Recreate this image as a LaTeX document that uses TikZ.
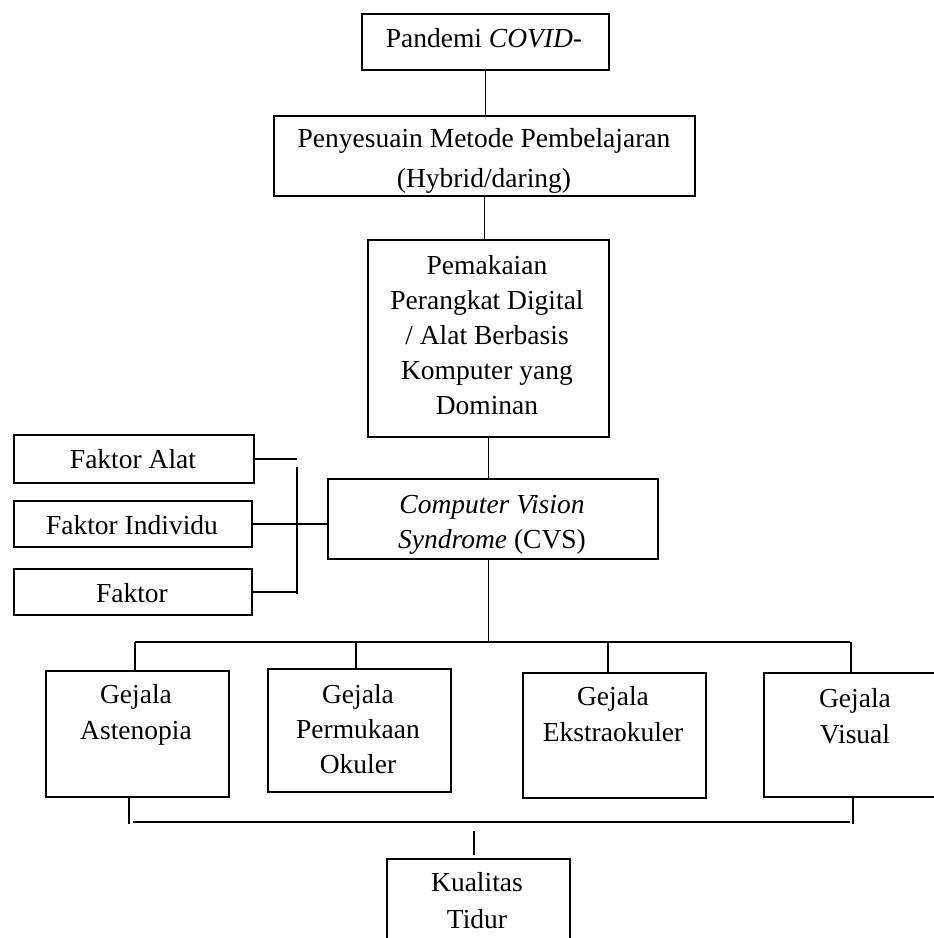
\documentclass[tikz,border=0pt]{standalone}
\usepackage{fontspec}
\setmainfont{Liberation Serif}
\begin{document}
\begin{tikzpicture}[x=1pt,y=-1pt,
  box/.style={draw, line width=1.7pt, inner sep=0pt, anchor=north west},
  txt/.style={inner sep=0pt, anchor=base, align=center, font=\fontsize{27.5}{36}\selectfont},
  conn/.style={line width=1.7pt}]
\useasboundingbox (0,0) rectangle (934,938);
\fill[white] (0,0) rectangle (934,938);

% boxes
\node[box, minimum width=247pt, minimum height=56pt] (covid) at (361,13) {};
\node[box, minimum width=421pt, minimum height=80pt] (met) at (273,115) {};
\node[box, minimum width=241pt, minimum height=197pt] (pem) at (367,239) {};
\node[box, minimum width=330pt, minimum height=80pt] (cvs) at (327,478) {};
\node[box, minimum width=240pt, minimum height=48pt] (fA) at (13,434) {};
\node[box, minimum width=238pt, minimum height=46pt] (fI) at (13,500) {};
\node[box, minimum width=238pt, minimum height=46pt] (fF) at (13,568) {};
\node[box, minimum width=183pt, minimum height=126pt] (g1) at (45,670) {};
\node[box, minimum width=183pt, minimum height=123pt] (g2) at (267,668) {};
\node[box, minimum width=183pt, minimum height=125pt] (g3) at (522,672) {};
\node[box, minimum width=183pt, minimum height=124pt] (g4) at (763,672) {};
\node[box, minimum width=183pt, minimum height=120pt] (kual) at (386,858) {};

% texts (anchor=base sits on the last line's baseline)
\node[txt] (covidT) at (484,47) {Pandemi \textit{COVID-}};
\node[txt, font=\fontsize{27.5}{40}\selectfont] (metT) at (484,187) {Penyesuain Metode Pembelajaran\\(Hybrid/daring)};
\node[txt, font=\fontsize{27.5}{35}\selectfont] (pemT) at (487,414) {Pemakaian\\Perangkat Digital\\/ Alat Berbasis\\Komputer yang\\Dominan};
\node[txt, font=\fontsize{27.5}{35}\selectfont] (cvsT) at (492,548) {\textit{Computer Vision}\\\textit{Syndrome} (CVS)};
\node[txt] (fAT) at (133,468) {Faktor Alat};
\node[txt] (fIT) at (132,534) {Faktor Individu};
\node[txt] (fFT) at (132,602) {Faktor};
\node[txt] (g1T) at (136,739) {Gejala\\Astenopia};
\node[txt, font=\fontsize{27.5}{35}\selectfont] (g2T) at (358,773) {Gejala\\Permukaan\\Okuler};
\node[txt] (g3T) at (613,741) {Gejala\\Ekstraokuler};
\node[txt] (g4T) at (855,743) {Gejala\\Visual};
\node[txt, font=\fontsize{27.5}{37}\selectfont] (kuT) at (477,928) {Kualitas\\Tidur};

% vertical chain
\draw[conn] (covid.south) -- (covid.south |- met.north);
\draw[conn] (met.south) -- (met.south |- pem.north);
\draw[conn] (pem.south) -- (pem.south |- cvs.north);

% bus to symptoms
\coordinate (busL) at (135,642);
\coordinate (busR) at (850,642);
\coordinate (d2) at (356,642);
\coordinate (d3) at (608,642);
\coordinate (d4) at (851,642);
\draw[conn] (pem.south |- cvs.south) -- (pem.south |- busL);
\draw[conn] (busL) -- (busR);
\draw[conn] (busL) -- (busL |- g1.north);
\draw[conn] (d2) -- (d2 |- g2.north);
\draw[conn] (d3) -- (d3 |- g3.north);
\draw[conn] (d4) -- (d4 |- g4.north);

% bottom bracket
\coordinate (bl) at (129,824);
\coordinate (br) at (853,824);
\coordinate (hbL) at (133,822);
\coordinate (hbR) at (850,822);
\coordinate (kq) at (474,831);
\coordinate (kqE) at (474,855);
\draw[conn] (g1.south -| bl) -- (bl);
\draw[conn] (g4.south -| br) -- (br);
\draw[conn] (hbL) -- (hbR);
\draw[conn] (kq) -- (kqE);

% factor bracket
\coordinate (fbT) at (297,467);
\coordinate (fbB) at (297,594);
\draw[conn] (fA.east) -- (fA.east -| fbT);
\draw[conn] (fbT) -- (fbB);
\draw[conn] (fF.east) -- (fF.east -| fbB);
\draw[conn] (fI.east) -- (fI.east -| cvs.west);
\end{tikzpicture}
\end{document}
